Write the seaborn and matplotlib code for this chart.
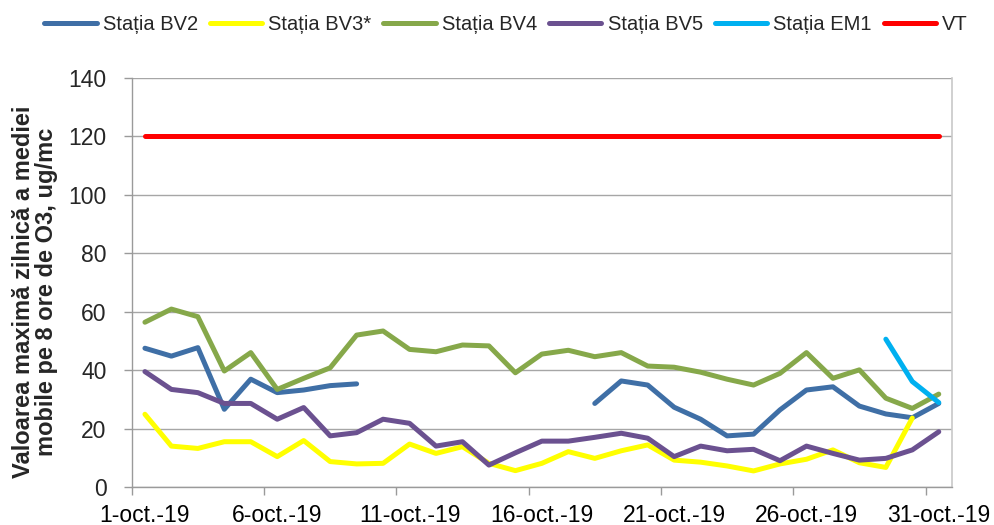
import numpy as np
import pandas as pd
import matplotlib
matplotlib.use("Agg")
import matplotlib.pyplot as plt
import seaborn as sns

nan = np.nan

# zile: 1..31 octombrie 2019
days = list(range(1, 32))
tick_labels = ["1-oct.-19", "6-oct.-19", "11-oct.-19", "16-oct.-19",
               "21-oct.-19", "26-oct.-19", "31-oct.-19"]

bv2 = [47.5, 44.8, 47.7, 26.6, 36.9, 32.3, 33.2, 34.7, 35.3, nan,
       nan, nan, nan, nan, nan, nan, nan, 28.6, 36.3, 34.9,
       27.3, 23.2, 17.5, 18.1, 26.4, 33.2, 34.3, 27.7, 25.0, 23.7, 28.6]
bv3 = [24.9, 14.0, 13.2, 15.5, 15.5, 10.4, 15.9, 8.7, 7.9, 8.1,
       14.7, 11.5, 13.8, 8.1, 5.6, 8.1, 12.1, 9.8, 12.4, 14.4,
       9.2, 8.5, 7.2, 5.5, 7.9, 9.5, 12.7, 8.3, 6.7, 23.6, nan]
bv4 = [56.4, 60.9, 58.3, 39.7, 46.0, 33.4, 37.2, 40.8, 52.0, 53.4,
       47.1, 46.3, 48.6, 48.3, 39.1, 45.5, 46.8, 44.6, 46.0, 41.4,
       41.0, 39.3, 36.9, 34.9, 38.9, 46.0, 37.2, 40.1, 30.4, 26.9, 31.8]
bv5 = [39.5, 33.4, 32.3, 28.6, 28.6, 23.2, 27.2, 17.5, 18.6, 23.2,
       21.8, 14.0, 15.5, 7.5, 11.7, 15.7, 15.7, 17.0, 18.4, 16.7,
       10.4, 14.0, 12.4, 12.9, 9.0, 14.0, 11.5, 9.2, 9.8, 12.7, 18.9]
em1 = [nan] * 28 + [50.6, 36.1, 28.9]
vt = [120] * 31

series = {
    "Stația BV2": (bv2, "#3F6FA6"),
    "Stația BV3*": (bv3, "#FFFF00"),
    "Stația BV4": (bv4, "#86A84A"),
    "Stația BV5": (bv5, "#6B5190"),
    "Stația EM1": (em1, "#00B0F0"),
    "VT": (vt, "#FF0000"),
}

sns.set_theme(style="white")
plt.rcParams["font.family"] = ["Liberation Sans", "DejaVu Sans"]

fig = plt.figure(figsize=(9.95, 5.25), dpi=100)
ax = fig.add_axes([131.7 / 995, 1 - 487 / 525, (952 - 131.7) / 995, (487 - 78) / 525])

pos = np.arange(len(days))
for name, (vals, col) in series.items():
    df = pd.DataFrame({"x": pos, "y": vals})
    df["seg"] = df["y"].isna().cumsum()
    df = df.dropna()
    first = True
    for _, part in df.groupby("seg"):
        sns.lineplot(data=part, x="x", y="y", ax=ax, color=col, lw=3.6,
                     label=name if first else None, legend=False,
                     solid_capstyle="round", solid_joinstyle="round")
        first = False

ax.set_xlim(-0.5, len(days) - 0.5)
ax.set_ylim(0, 140)
ax.set_yticks(range(0, 141, 20))
ax.set_xticks(pos[::5])
ax.set_xticklabels(tick_labels)
ax.set_xticks(np.arange(-0.5, len(days), 5), minor=True)
ax.tick_params(axis="x", which="major", length=0, pad=12, labelsize=16.5, colors="#000000")
ax.tick_params(axis="x", which="minor", length=6, width=1, color="#9a9a9a", direction="out", bottom=True)
ax.tick_params(axis="y", length=6, width=1, color="#9a9a9a", pad=12, labelsize=16.5, direction="out", left=True)
ax.yaxis.grid(True, color="#a6a6a6", lw=1)
ax.set_axisbelow(True)
ax.set_xlabel("")
ax.set_ylabel("")
for s in ["left", "bottom"]:
    ax.spines[s].set_color("#9a9a9a")
    ax.spines[s].set_linewidth(1)
ax.spines["right"].set_color("#c8c8c8")
ax.spines["right"].set_linewidth(1.2)
ax.spines["top"].set_visible(False)

fig.text(35 / 995, 1 - 292 / 525,
         "Valoarea maximă zilnică a mediei\nmobile pe 8 ore de O3, ug/mc",
         rotation=90, ha="center", va="center", multialignment="center",
         fontsize=17, fontweight="bold", linespacing=1.0)

handles, labels = ax.get_legend_handles_labels()
fig.legend(handles, labels, loc="center", bbox_to_anchor=(506 / 995, 1 - 25 / 525),
           ncol=6, frameon=False, fontsize=14.5, handlelength=2.6,
           handletextpad=0.3, columnspacing=0.6)

fig.savefig("out.png", dpi=100)
